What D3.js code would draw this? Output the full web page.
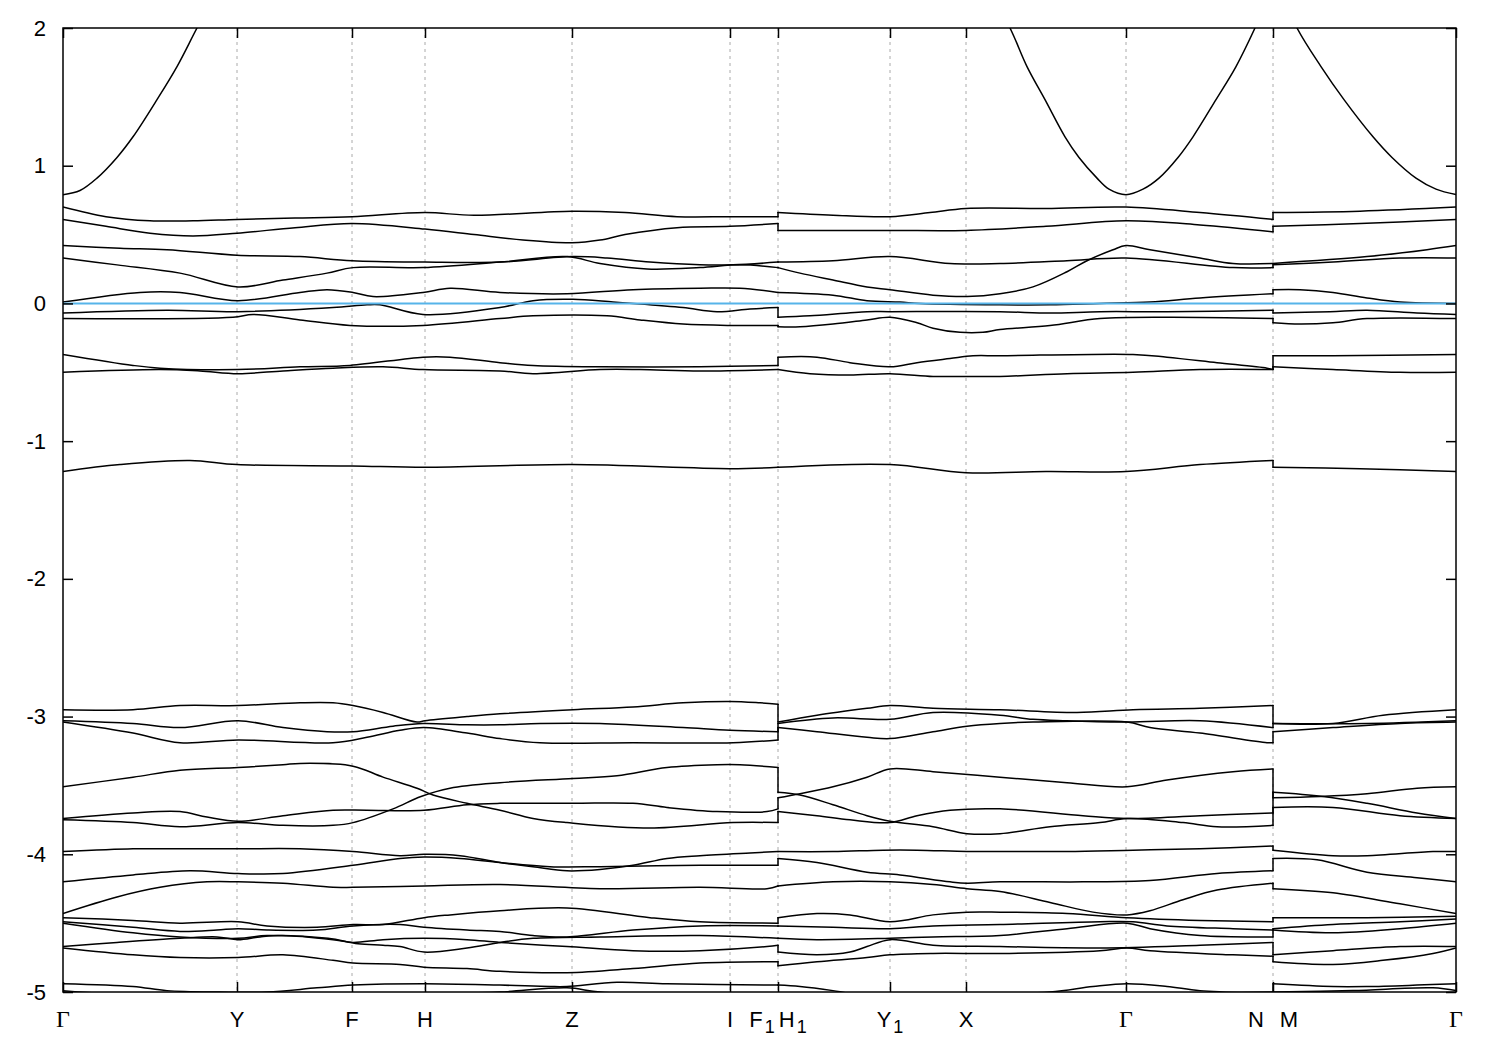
<!DOCTYPE html>
<html><head><meta charset="utf-8">
<script src="https://d3js.org/d3.v7.min.js"></script>
<style>body{margin:0;background:#fff;} svg{display:block;}</style>
</head><body>
<svg id="chart" width="1500" height="1050"></svg>
<script>
// ---------------- DATA ----------------
// k-path distance (arb. units) of the high-symmetry points
const kTicks = [0, 174, 289, 362, 509, 667, 715, 827, 903, 1063, 1210, 1393];
const kLabels = ["Γ", "Y", "F", "H", "Z", "I", "F_1H_1", "Y_1", "X", "Γ", "N M", "Γ"];
const yTicks = [-5, -4, -3, -2, -1, 0, 1, 2];
const energyRange = [-5, 2];
const fermiLevel = 0;

// each band: three path pieces (Γ..F1 | H1..N | M..Γ) of [k, E(eV)]
const bandCond = [
 [[0,0.79],[17,0.82],[34,0.91],[54,1.06],[70,1.21],[94,1.48],[114,1.72],[134,2.0],[174,2.55]],
 [[903,2.6],[947,2.0],[964,1.72],[982,1.48],[1002,1.21],[1016,1.06],[1034,0.91],[1046,0.83],[1063,0.79],[1080,0.83],[1096,0.91],[1115,1.06],[1130,1.21],[1153,1.48],[1173,1.72],[1192,2.0],[1210,2.3]],
 [[1210,2.4],[1234,2.0],[1258,1.72],[1281,1.48],[1310,1.21],[1329,1.06],[1353,0.91],[1373,0.83],[1393,0.79]]
];
const band01 = [
 [[0,0.70],[43,0.63],[87,0.60],[130,0.60],[174,0.61],[232,0.62],[289,0.63],[362,0.66],[411,0.64],[509,0.67],[562,0.66],[614,0.63],[667,0.63],[715,0.63]],
 [[715,0.66],[770,0.64],[827,0.63],[867,0.66],[903,0.69],[983,0.69],[1063,0.70],[1137,0.66],[1210,0.61]],
 [[1210,0.66],[1297,0.67],[1393,0.70]]
];
const band02 = [
 [[0,0.61],[43,0.56],[87,0.51],[130,0.49],[174,0.51],[232,0.55],[289,0.58],[362,0.54],[411,0.50],[460,0.46],[509,0.44],[537,0.46],[562,0.50],[614,0.55],[667,0.56],[715,0.58]],
 [[715,0.53],[827,0.53],[903,0.53],[983,0.56],[1063,0.60],[1137,0.57],[1210,0.52]],
 [[1210,0.56],[1297,0.58],[1393,0.61]]
];
const band03 = [
 [[0,0.42],[57,0.40],[104,0.39],[174,0.35],[237,0.34],[289,0.31],[362,0.30],[437,0.30],[509,0.34],[544,0.33],[587,0.30],[637,0.28],[670,0.28],[715,0.30]],
 [[715,0.30],[770,0.31],[827,0.34],[887,0.29],[937,0.29],[1004,0.31],[1063,0.33],[1170,0.26],[1210,0.26]],
 [[1210,0.28],[1270,0.30],[1337,0.33],[1393,0.33]]
];
const band04 = [
 [[0,0.33],[54,0.28],[117,0.22],[175,0.12],[220,0.17],[264,0.22],[290,0.26],[360,0.26],[437,0.30],[504,0.34],[537,0.29],[584,0.25],[637,0.26],[677,0.28],[715,0.26]],
 [[715,0.26],[737,0.22],[770,0.17],[804,0.12],[827,0.10],[870,0.06],[904,0.05],[937,0.07],[970,0.12],[1004,0.23],[1024,0.31],[1050,0.39],[1063,0.42],[1087,0.39],[1137,0.33],[1170,0.29],[1210,0.29]],
 [[1210,0.29],[1304,0.34],[1364,0.39],[1393,0.42]]
];
const band05 = [
 [[0,0.01],[77,0.08],[117,0.08],[175,0.02],[237,0.08],[264,0.10],[290,0.08],[310,0.05],[360,0.08],[387,0.11],[437,0.08],[504,0.07],[570,0.10],[637,0.11],[677,0.11],[715,0.08]],
 [[715,0.08],[770,0.06],[804,0.02],[837,0.01],[857,0.0],[937,-0.01],[987,-0.01],[1037,0.0],[1087,0.01],[1137,0.04],[1210,0.07]],
 [[1210,0.10],[1237,0.10],[1270,0.08],[1304,0.04],[1337,0.01],[1393,0.0]]
];
const band06 = [
 [[0,-0.07],[104,-0.05],[175,-0.06],[270,-0.03],[304,-0.01],[317,-0.01],[360,-0.08],[437,-0.03],[470,0.02],[510,0.03],[550,0.01],[570,0.0],[620,-0.03],[654,-0.06],[687,-0.04],[715,-0.03]],
 [[715,-0.10],[747,-0.09],[804,-0.06],[827,-0.06],[937,-0.06],[987,-0.07],[1037,-0.06],[1104,-0.06],[1210,-0.05]],
 [[1210,-0.07],[1267,-0.06],[1304,-0.05],[1354,-0.07],[1393,-0.08]]
];
const band07 = [
 [[0,-0.11],[170,-0.10],[190,-0.08],[237,-0.12],[287,-0.16],[360,-0.16],[437,-0.11],[470,-0.09],[544,-0.09],[577,-0.12],[620,-0.15],[667,-0.16],[715,-0.16]],
 [[715,-0.17],[737,-0.17],[770,-0.15],[804,-0.12],[827,-0.10],[854,-0.14],[870,-0.18],[897,-0.21],[920,-0.21],[937,-0.19],[987,-0.16],[1037,-0.11],[1104,-0.10],[1210,-0.11]],
 [[1210,-0.14],[1237,-0.15],[1270,-0.14],[1304,-0.11],[1393,-0.11]]
];
const band08 = [
 [[0,-0.37],[70,-0.45],[97,-0.47],[175,-0.48],[237,-0.46],[287,-0.45],[360,-0.39],[387,-0.39],[437,-0.43],[470,-0.45],[537,-0.46],[637,-0.46],[715,-0.45]],
 [[715,-0.39],[754,-0.39],[787,-0.43],[827,-0.46],[854,-0.43],[887,-0.40],[910,-0.38],[937,-0.38],[1070,-0.37],[1104,-0.39],[1154,-0.43],[1204,-0.47],[1210,-0.48]],
 [[1210,-0.38],[1270,-0.38],[1393,-0.37]]
];
const band09 = [
 [[0,-0.50],[97,-0.48],[137,-0.49],[175,-0.51],[220,-0.49],[270,-0.47],[320,-0.46],[360,-0.48],[437,-0.49],[470,-0.51],[537,-0.48],[577,-0.48],[637,-0.49],[715,-0.48]],
 [[715,-0.48],[747,-0.51],[787,-0.52],[827,-0.51],[870,-0.53],[897,-0.53],[937,-0.53],[1004,-0.51],[1070,-0.50],[1137,-0.48],[1210,-0.48]],
 [[1210,-0.46],[1270,-0.48],[1337,-0.50],[1393,-0.50]]
];
const band10 = [
 [[0,-1.22],[57,-1.17],[127,-1.14],[174,-1.17],[289,-1.18],[362,-1.19],[509,-1.17],[667,-1.20],[715,-1.19]],
 [[715,-1.19],[827,-1.17],[903,-1.23],[983,-1.22],[1063,-1.22],[1137,-1.17],[1210,-1.14]],
 [[1210,-1.19],[1297,-1.20],[1393,-1.22]]
];
const band11 = [
 [[0,-2.95],[70,-2.95],[117,-2.92],[175,-2.92],[237,-2.90],[270,-2.90],[290,-2.92],[320,-2.97],[354,-3.04],[362,-3.03],[404,-3.00],[437,-2.98],[510,-2.95],[570,-2.93],[620,-2.90],[667,-2.89],[697,-2.90],[715,-2.91]],
 [[715,-3.04],[754,-2.99],[804,-2.94],[827,-2.92],[870,-2.94],[937,-2.95],[1014,-2.97],[1070,-2.95],[1137,-2.94],[1210,-2.92]],
 [[1210,-3.05],[1270,-3.05],[1320,-2.99],[1393,-2.95]]
];
const band12 = [
 [[0,-3.03],[70,-3.05],[117,-3.08],[175,-3.03],[220,-3.08],[264,-3.11],[290,-3.11],[330,-3.07],[360,-3.05],[404,-3.06],[437,-3.06],[477,-3.05],[537,-3.05],[620,-3.08],[667,-3.10],[715,-3.11]],
 [[715,-3.05],[770,-3.01],[827,-3.02],[870,-2.97],[937,-2.99],[970,-3.02],[1004,-3.03],[1064,-3.04],[1137,-3.03],[1210,-3.08]],
 [[1210,-3.05],[1304,-3.05],[1393,-3.03]]
];
const band13 = [
 [[0,-3.04],[70,-3.12],[117,-3.19],[175,-3.17],[270,-3.19],[304,-3.15],[337,-3.10],[361,-3.08],[404,-3.12],[437,-3.16],[477,-3.19],[570,-3.19],[670,-3.19],[715,-3.17]],
 [[715,-3.08],[754,-3.11],[804,-3.15],[827,-3.16],[870,-3.11],[904,-3.07],[937,-3.05],[970,-3.04],[1064,-3.04],[1087,-3.08],[1137,-3.12],[1204,-3.19],[1210,-3.19]],
 [[1210,-3.11],[1270,-3.08],[1337,-3.05],[1393,-3.04]]
];
const band14 = [
 [[0,-3.51],[70,-3.44],[117,-3.39],[175,-3.37],[220,-3.35],[237,-3.34],[290,-3.36],[320,-3.44],[354,-3.52],[370,-3.57],[404,-3.63],[437,-3.68],[470,-3.74],[504,-3.77],[587,-3.81],[670,-3.77],[715,-3.77]],
 [[715,-3.69],[754,-3.72],[787,-3.75],[827,-3.77],[854,-3.72],[887,-3.68],[937,-3.67],[1020,-3.72],[1064,-3.74],[1137,-3.72],[1210,-3.70]],
 [[1210,-3.55],[1260,-3.58],[1304,-3.63],[1354,-3.70],[1393,-3.74]]
];
const band15 = [
 [[0,-3.74],[70,-3.70],[117,-3.69],[144,-3.73],[175,-3.76],[220,-3.72],[270,-3.68],[304,-3.68],[361,-3.68],[404,-3.64],[437,-3.63],[510,-3.63],[570,-3.63],[604,-3.66],[654,-3.69],[704,-3.69],[715,-3.67]],
 [[715,-3.59],[737,-3.56],[770,-3.51],[804,-3.44],[827,-3.38],[870,-3.40],[937,-3.44],[1004,-3.48],[1064,-3.51],[1104,-3.46],[1170,-3.40],[1210,-3.38]],
 [[1210,-3.59],[1257,-3.58],[1304,-3.56],[1354,-3.52],[1393,-3.51]]
];
const band16 = [
 [[0,-3.75],[70,-3.77],[117,-3.80],[175,-3.77],[220,-3.79],[270,-3.79],[290,-3.77],[330,-3.67],[358,-3.58],[387,-3.52],[437,-3.48],[510,-3.45],[554,-3.43],[604,-3.37],[654,-3.35],[677,-3.35],[715,-3.37]],
 [[715,-3.55],[737,-3.57],[770,-3.64],[804,-3.72],[827,-3.76],[870,-3.80],[904,-3.85],[937,-3.85],[987,-3.80],[1037,-3.77],[1064,-3.74],[1120,-3.77],[1154,-3.80],[1210,-3.79]],
 [[1210,-3.66],[1270,-3.66],[1337,-3.72],[1393,-3.74]]
];
const band17 = [
 [[0,-3.98],[70,-3.96],[104,-3.96],[175,-3.96],[237,-3.96],[290,-3.98],[337,-4.01],[361,-4.00],[397,-4.01],[437,-4.06],[470,-4.09],[504,-4.12],[537,-4.11],[570,-4.08],[604,-4.03],[637,-4.01],[687,-3.99],[715,-3.98]],
 [[715,-3.98],[770,-3.98],[820,-3.97],[854,-3.97],[904,-3.98],[937,-3.98],[1004,-3.98],[1070,-3.97],[1137,-3.96],[1210,-3.94]],
 [[1210,-3.97],[1270,-4.01],[1304,-4.01],[1370,-3.98],[1393,-3.98]]
];
const band18 = [
 [[0,-4.20],[70,-4.15],[127,-4.12],[175,-4.14],[220,-4.14],[290,-4.08],[337,-4.03],[361,-4.02],[397,-4.03],[437,-4.06],[487,-4.09],[537,-4.09],[637,-4.08],[715,-4.08]],
 [[715,-4.03],[754,-4.06],[804,-4.13],[837,-4.15],[887,-4.20],[904,-4.21],[937,-4.20],[1020,-4.20],[1087,-4.19],[1154,-4.14],[1210,-4.12]],
 [[1210,-4.03],[1254,-4.04],[1304,-4.13],[1354,-4.17],[1393,-4.20]]
];
const band19 = [
 [[0,-4.43],[54,-4.31],[97,-4.24],[144,-4.20],[175,-4.20],[220,-4.21],[270,-4.24],[290,-4.24],[361,-4.23],[437,-4.22],[537,-4.25],[637,-4.24],[704,-4.25],[715,-4.23]],
 [[715,-4.23],[770,-4.20],[827,-4.20],[870,-4.22],[904,-4.25],[937,-4.27],[987,-4.35],[1030,-4.42],[1064,-4.44],[1087,-4.41],[1120,-4.33],[1154,-4.26],[1210,-4.21]],
 [[1210,-4.25],[1270,-4.28],[1337,-4.36],[1393,-4.43]]
];
const band20 = [
 [[0,-4.46],[70,-4.48],[117,-4.50],[175,-4.49],[204,-4.52],[254,-4.53],[290,-4.51],[320,-4.51],[361,-4.46],[387,-4.44],[437,-4.41],[504,-4.39],[587,-4.46],[637,-4.49],[715,-4.50]],
 [[715,-4.46],[754,-4.43],[787,-4.44],[827,-4.49],[870,-4.44],[904,-4.42],[937,-4.42],[1004,-4.43],[1064,-4.46],[1137,-4.48],[1210,-4.49]],
 [[1210,-4.46],[1304,-4.46],[1393,-4.45]]
];
const band21 = [
 [[0,-4.49],[70,-4.53],[117,-4.56],[154,-4.55],[175,-4.54],[204,-4.55],[254,-4.55],[290,-4.52],[337,-4.51],[361,-4.53],[404,-4.55],[437,-4.56],[470,-4.59],[504,-4.60],[570,-4.55],[637,-4.52],[715,-4.52]],
 [[715,-4.52],[770,-4.53],[827,-4.54],[870,-4.52],[937,-4.51],[1037,-4.49],[1070,-4.49],[1104,-4.52],[1170,-4.54],[1210,-4.55]],
 [[1210,-4.54],[1270,-4.51],[1337,-4.49],[1393,-4.47]]
];
const band22 = [
 [[0,-4.50],[70,-4.57],[117,-4.60],[175,-4.61],[204,-4.59],[265,-4.61],[295,-4.65],[320,-4.66],[337,-4.67],[361,-4.71],[404,-4.68],[437,-4.64],[470,-4.61],[537,-4.60],[637,-4.59],[715,-4.61]],
 [[715,-4.61],[754,-4.62],[827,-4.61],[870,-4.60],[937,-4.59],[1004,-4.54],[1064,-4.50],[1087,-4.54],[1137,-4.59],[1210,-4.60]],
 [[1210,-4.55],[1270,-4.57],[1337,-4.54],[1393,-4.50]]
];
const band23 = [
 [[0,-4.67],[54,-4.64],[117,-4.61],[154,-4.60],[175,-4.62],[197,-4.60],[220,-4.59],[270,-4.62],[290,-4.64],[320,-4.62],[361,-4.61],[404,-4.62],[437,-4.64],[504,-4.67],[570,-4.70],[637,-4.70],[704,-4.67],[715,-4.66]],
 [[715,-4.71],[754,-4.73],[787,-4.71],[804,-4.67],[827,-4.62],[870,-4.66],[937,-4.67],[1037,-4.68],[1137,-4.66],[1210,-4.64]],
 [[1210,-4.73],[1270,-4.70],[1337,-4.67],[1393,-4.67]]
];
const band24 = [
 [[0,-4.68],[70,-4.73],[117,-4.75],[175,-4.75],[220,-4.73],[270,-4.77],[290,-4.79],[337,-4.80],[361,-4.82],[404,-4.83],[437,-4.85],[504,-4.86],[570,-4.83],[637,-4.79],[715,-4.78]],
 [[715,-4.81],[754,-4.78],[804,-4.75],[827,-4.73],[870,-4.72],[937,-4.72],[1037,-4.70],[1064,-4.68],[1087,-4.70],[1170,-4.73],[1210,-4.74]],
 [[1210,-4.78],[1270,-4.80],[1320,-4.77],[1370,-4.72],[1393,-4.68]]
];
const band25 = [
 [[0,-4.94],[70,-4.96],[104,-4.99],[157,-5.00],[204,-5.00],[254,-4.97],[290,-4.95],[361,-4.94],[437,-4.95],[487,-4.96],[504,-4.96],[554,-4.93],[604,-4.94],[715,-4.95]],
 [[715,-4.95],[737,-4.96],[770,-4.99],[787,-5.01],[837,-5.03],[887,-5.02],[987,-5.00],[1030,-4.96],[1064,-4.94],[1104,-4.96],[1137,-4.99],[1210,-5.01]],
 [[1210,-4.94],[1270,-4.96],[1304,-4.96],[1354,-4.95],[1393,-4.94]]
];
const band26 = [
 [[0,-4.99],[67,-5.02],[237,-5.03],[387,-5.01],[437,-5.00],[504,-4.97],[537,-5.00],[637,-5.03],[715,-5.03]],
 [[715,-5.03],[937,-5.02],[1100,-5.01],[1210,-5.00]],
 [[1210,-5.00],[1290,-4.99],[1370,-4.97],[1393,-4.99]]
];
const bands = [bandCond, band01, band02, band03, band04, band05, band06, band07, band08, band09, band10,
  band11, band12, band13, band14, band15, band16, band17, band18, band19, band20, band21, band22, band23, band24, band25, band26];

// ---------------- DRAW ----------------
const svg = d3.select("#chart");
const plot = {left: 63, right: 1456, top: 28, bottom: 992};
const x = d3.scaleLinear().domain([kTicks[0], kTicks[kTicks.length - 1]]).range([plot.left, plot.right]);
const y = d3.scaleLinear().domain(energyRange).range([plot.bottom, plot.top]);
const sansFont = "'Liberation Sans', Arial, Helvetica, sans-serif";
const serifFont = "'Liberation Serif', 'Times New Roman', serif";

svg.append("defs").append("clipPath").attr("id", "plotClip")
  .append("rect").attr("x", plot.left).attr("y", plot.top)
  .attr("width", plot.right - plot.left).attr("height", plot.bottom - plot.top);

// dashed verticals at the high-symmetry points
svg.append("g").selectAll("line").data(kTicks.slice(1, -1)).join("line")
  .attr("x1", d => x(d)).attr("x2", d => x(d))
  .attr("y1", plot.top).attr("y2", plot.bottom)
  .attr("stroke", "#aaaaaa").attr("stroke-width", 1).attr("stroke-dasharray", "3,4");

// bands
const smooth = d3.line().x(d => x(d[0])).y(d => y(d[1])).curve(d3.curveCatmullRom.alpha(0.5));
const straight = d3.line().x(d => x(d[0])).y(d => y(d[1]));
const bandG = svg.append("g").attr("clip-path", "url(#plotClip)")
  .attr("fill", "none").attr("stroke", "#000").attr("stroke-width", 1.5)
  .attr("stroke-linejoin", "round").attr("stroke-linecap", "round");
bands.forEach(b => {
  b.forEach(seg => bandG.append("path").attr("d", smooth(seg)));
  for (let i = 0; i < b.length - 1; i++) {
    const a = b[i][b[i].length - 1], c = b[i + 1][0];
    if (a[0] === c[0]) bandG.append("path").attr("d", straight([a, c]));
  }
});

// Fermi level
svg.append("line")
  .attr("x1", plot.left).attr("x2", plot.right)
  .attr("y1", y(fermiLevel)).attr("y2", y(fermiLevel))
  .attr("stroke", "#56b4e9").attr("stroke-width", 2);

// axes (inward ticks, mirrored)
function styleAxis(g) {
  g.select(".domain").remove();
  g.selectAll(".tick line").attr("stroke", "#000").attr("stroke-width", 1.5);
  g.selectAll(".tick text").attr("fill", "#000");
  g.attr("font-family", sansFont).attr("font-size", 22);
}
svg.append("g").attr("transform", `translate(${plot.left},0)`)
  .call(d3.axisLeft(y).tickValues(yTicks).tickSize(-10).tickPadding(17).tickFormat(d => String(d)))
  .call(styleAxis);
svg.append("g").attr("transform", `translate(${plot.right},0)`)
  .call(d3.axisRight(y).tickValues(yTicks).tickSize(-10).tickFormat(""))
  .call(styleAxis);
svg.append("g").attr("transform", `translate(0,${plot.bottom})`)
  .call(d3.axisBottom(x).tickValues(kTicks).tickSize(-10).tickFormat(""))
  .call(styleAxis);
svg.append("g").attr("transform", `translate(0,${plot.top})`)
  .call(d3.axisTop(x).tickValues(kTicks).tickSize(-10).tickFormat(""))
  .call(styleAxis);

// border
svg.append("rect").attr("x", plot.left).attr("y", plot.top)
  .attr("width", plot.right - plot.left).attr("height", plot.bottom - plot.top)
  .attr("fill", "none").attr("stroke", "#000").attr("stroke-width", 1.5);

// k-point labels (gnuplot-style subscripts)
const labG = svg.append("g").attr("font-family", sansFont).attr("font-size", 22).attr("fill", "#000");
kLabels.forEach((lab, i) => {
  const t = labG.append("text").attr("x", x(kTicks[i])).attr("y", plot.bottom + 35).attr("text-anchor", "middle");
  if (lab === "Γ") { t.attr("font-family", serifFont).attr("font-size", 24).text(lab); return; }
  const tokens = lab.split(/(_\d| )/).filter(s => s !== "");
  let shifted = false, gap = 0;
  tokens.forEach(tok => {
    if (tok === " ") { gap = 16; return; }
    const sub = tok.startsWith("_");
    const ts = t.append("tspan").text(sub ? tok.slice(1) : tok);
    if (sub) { ts.attr("font-size", 18).attr("dy", 6).attr("dx", 2); shifted = true; }
    else {
      if (shifted) { ts.attr("dy", -6).attr("dx", 4); shifted = false; }
      else if (gap) { ts.attr("dx", gap); }
      gap = 0;
    }
  });
});
</script>
</body></html>
